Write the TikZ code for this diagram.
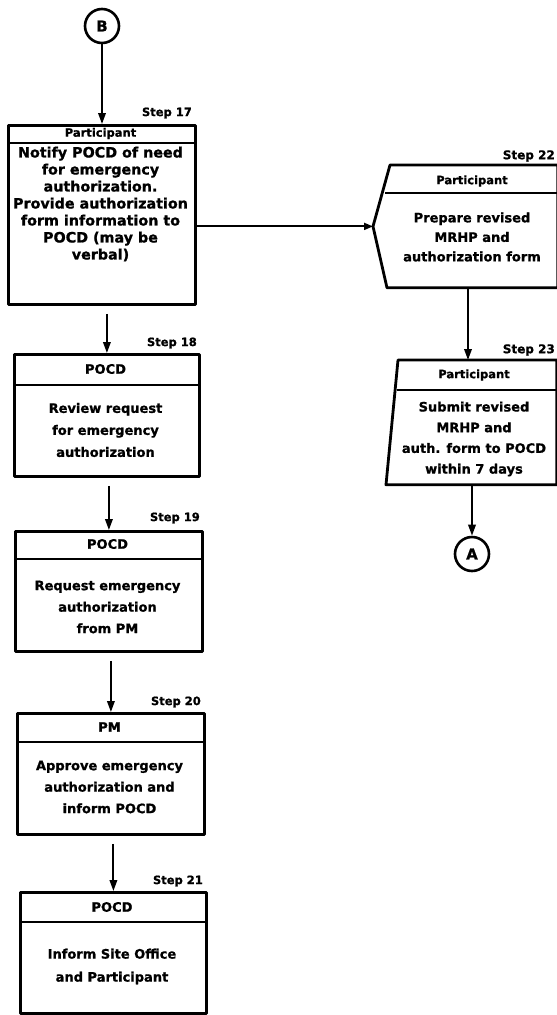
\documentclass[tikz,border=0pt]{standalone}
\usepackage{fontspec}
\setmainfont{DejaVu Sans}[BoldFeatures={FakeBold=1}]
\usetikzlibrary{arrows.meta}
\begin{document}
\begin{tikzpicture}[x=1pt,y=-1pt,
  boxline/.style={line width=2.8pt, line join=round},
  stepbox/.style={draw, boxline, anchor=north west, inner sep=0pt},
  ghost/.style={anchor=north west, inner sep=0pt, outer sep=1.4pt},
  divline/.style={line width=2.2pt},
  flow/.style={line width=1.9pt, -{Triangle[length=11pt,width=7.5pt]}},
  hdr/.style={font=\bfseries\fontsize{11.5}{13}\selectfont, inner sep=0pt},
  hdrbig/.style={font=\bfseries\fontsize{13}{15}\selectfont, inner sep=0pt},
  body/.style={font=\bfseries\fontsize{13}{21.5}\selectfont, align=center, inner sep=0pt},
  steplbl/.style={font=\bfseries\fontsize{11.5}{13}\selectfont, inner sep=0pt},
  conn/.style={circle, draw, line width=2.6pt, minimum size=34pt, inner sep=0pt,
    font=\bfseries\fontsize{15}{17}\selectfont}
]
\useasboundingbox[fill=white] (0,0) rectangle (557,1015);

% off-page connector into this sheet
\node[conn] (cB) at (102,26) {B};

% ---------- left column: steps 17 to 21 ----------
\node[stepbox, minimum width=187pt, minimum height=179pt] (s17) at (7,124) {};
\draw[divline] (s17.west |- 0,143) -- (s17.east |- 0,143);
\node[hdr] (h17) at (100.5,133.5) {Participant};
\node[body, font=\bfseries\fontsize{14.3}{17}\selectfont] (t17) at (100.5,204)
  {Notify POCD of need\\for emergency\\authorization.\\Provide authorization\\form information to\\POCD (may be\\verbal)};
\node[steplbl, anchor=east] (l17) at (192,113) {Step 17};

\node[stepbox, minimum width=185pt, minimum height=122pt] (s18) at (13,353) {};
\draw[divline] (s18.west |- 0,385) -- (s18.east |- 0,385);
\node[hdrbig] (h18) at (105.5,369) {POCD};
\node[body, font=\bfseries\fontsize{13}{22}\selectfont] (t18) at (105.5,430)
  {Review request\\for emergency\\authorization};
\node[steplbl, anchor=east] (l18) at (197,343) {Step 18};

\node[stepbox, minimum width=187pt, minimum height=120pt] (s19) at (14,530) {};
\draw[divline] (s19.west |- 0,559) -- (s19.east |- 0,559);
\node[hdrbig] (h19) at (107.5,544) {POCD};
\node[body] (t19) at (107.5,607)
  {Request emergency\\authorization\\from PM};
\node[steplbl, anchor=east] (l19) at (200,518) {Step 19};

\node[stepbox, minimum width=187pt, minimum height=121pt] (s20) at (16,712) {};
\draw[divline] (s20.west |- 0,742) -- (s20.east |- 0,742);
\node[hdrbig] (h20) at (109.5,727) {PM};
\node[body] (t20) at (109.5,787)
  {Approve emergency\\authorization and\\inform POCD};
\node[steplbl, anchor=east] (l20) at (201,702) {Step 20};

\node[stepbox, minimum width=186pt, minimum height=121pt] (s21) at (19,891) {};
\draw[divline] (s21.west |- 0,922) -- (s21.east |- 0,922);
\node[hdrbig] (h21) at (112,907) {POCD};
\node[body, font=\bfseries\fontsize{13}{23}\selectfont] (t21) at (112,966.5)
  {Inform Site Office\\and Participant};
\node[steplbl, anchor=east] (l21) at (203,881) {Step 21};

% ---------- right column: steps 22 and 23 ----------
\node[ghost, minimum width=165pt, minimum height=120pt] (s22) at (390,165) {};
\coordinate (s22tip) at ([xshift=-17pt]s22.west);
\draw[boxline] (s22.north west) -- (s22.north east) -- (s22.south east)
  -- ([xshift=-3pt]s22.south west) -- (s22tip) -- cycle;
\draw[divline] ([xshift=-5pt]s22.west |- 0,193) -- (s22.east |- 0,193);
\node[hdr] (h22) at (472,181) {Participant};
\node[body, font=\bfseries\fontsize{13}{19.5}\selectfont] (t22) at (472,237)
  {Prepare revised\\MRHP and\\authorization form};
\node[steplbl, font=\bfseries\fontsize{12}{14}\selectfont, anchor=east] (l22) at (555,156) {Step 22};

\node[ghost, minimum width=162pt, minimum height=122pt] (s23) at (392,360) {};
\draw[boxline] ([xshift=6pt]s23.north west) -- (s23.north east) -- (s23.south east)
  -- ([xshift=-6pt]s23.south west) -- cycle;
\draw[divline] ([xshift=4.5pt]s23.west |- 0,390) -- (s23.east |- 0,390);
\node[hdr] (h23) at (474,375) {Participant};
\node[body, font=\bfseries\fontsize{13}{20.7}\selectfont] (t23) at (474,439)
  {Submit revised\\MRHP and\\auth. form to POCD\\within 7 days};
\node[steplbl, font=\bfseries\fontsize{12}{14}\selectfont, anchor=east] (l23) at (555,350) {Step 23};

% off-page connector out of this sheet
\node[conn] (cA) at (472,554) {A};

% ---------- connectors ----------
\coordinate (a23) at (468,0);
\draw[flow] (cB) -- (cB |- s17.north);
\draw[flow, shorten <=8pt] (s17.south -| s18.north) -- (s18.north);
\draw[flow, shorten <=8pt] (s18.south -| s19.north) -- (s19.north);
\draw[flow, shorten <=8pt] (s19.south -| s20.north) -- (s20.north);
\draw[flow, shorten <=8pt] (s20.south -| s21.north) -- (s21.north);
\draw[line width=1.9pt, -{Triangle[length=9pt,width=7pt]}] (s17.east |- s22tip) -- (s22tip);
\draw[flow] (s22.south -| a23) -- (s23.north -| a23);
\draw[flow] (s23.south -| cA) -- (cA);
\end{tikzpicture}
\end{document}
